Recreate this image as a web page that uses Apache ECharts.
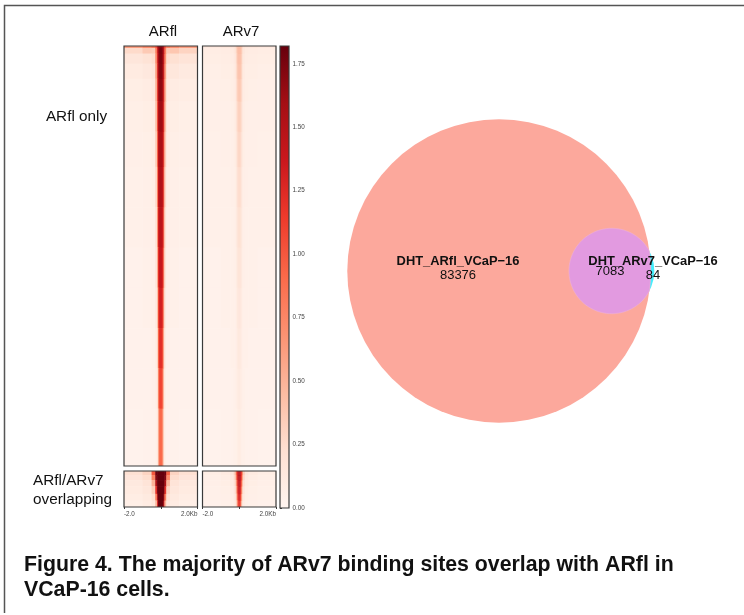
<!DOCTYPE html>
<html>
<head>
<meta charset="utf-8">
<style>
  html, body { margin: 0; background: #fff; }
  #chart { width: 744px; height: 615px; }
</style>
<script src="https://cdn.jsdelivr.net/npm/echarts@6/dist/echarts.min.js"></script>
</head>
<body>
<div id="chart"></div>
<script>
// 热图 x 分箱（bp），中心窄两边宽
const binEdges = [-2000, -1000, -500, -300, -200, -150, -100, -50, 0, 50, 100, 150, 200, 300, 500, 1000, 2000];
// 两个 cluster 的行分箱（peak 数）
const onlyRowEdges = [0, 400, 1500, 3500, 6500, 11000, 17000, 24000, 32000, 40000, 48000, 56000, 64000, 72000, 83376];
const bothRowEdges = [0, 800, 1800, 3000, 4500, 5800, 7083];

const arflOnly = [
  [0.62, 0.72, 0.80, 1.05, 1.45, 1.62, 1.68, 1.72, 1.72, 1.68, 1.60, 1.40, 1.00, 0.78, 0.70, 0.62],
  [0.26, 0.36, 0.34, 0.80, 1.35, 1.60, 1.72, 1.76, 1.76, 1.72, 1.60, 1.35, 0.80, 0.36, 0.38, 0.30],
  [0.16, 0.20, 0.24, 0.72, 1.30, 1.58, 1.70, 1.74, 1.74, 1.70, 1.58, 1.30, 0.72, 0.26, 0.22, 0.18],
  [0.11, 0.14, 0.17, 0.62, 1.25, 1.55, 1.68, 1.72, 1.72, 1.68, 1.55, 1.25, 0.62, 0.17, 0.15, 0.12],
  [0.08, 0.10, 0.13, 0.52, 1.18, 1.52, 1.64, 1.68, 1.68, 1.64, 1.52, 1.18, 0.52, 0.13, 0.10, 0.09],
  [0.07, 0.08, 0.10, 0.44, 1.10, 1.48, 1.58, 1.62, 1.62, 1.58, 1.48, 1.10, 0.44, 0.10, 0.08, 0.07],
  [0.06, 0.07, 0.09, 0.36, 0.98, 1.42, 1.52, 1.56, 1.56, 1.52, 1.42, 0.98, 0.36, 0.09, 0.07, 0.06],
  [0.05, 0.06, 0.08, 0.28, 0.85, 1.36, 1.48, 1.52, 1.52, 1.48, 1.36, 0.85, 0.28, 0.08, 0.06, 0.05],
  [0.05, 0.06, 0.07, 0.22, 0.72, 1.28, 1.42, 1.46, 1.46, 1.42, 1.28, 0.72, 0.22, 0.07, 0.06, 0.05],
  [0.04, 0.05, 0.06, 0.18, 0.58, 1.18, 1.36, 1.40, 1.40, 1.36, 1.18, 0.58, 0.18, 0.06, 0.05, 0.04],
  [0.04, 0.05, 0.06, 0.14, 0.45, 1.05, 1.28, 1.32, 1.32, 1.28, 1.05, 0.45, 0.14, 0.06, 0.05, 0.04],
  [0.04, 0.04, 0.05, 0.11, 0.32, 0.90, 1.18, 1.22, 1.22, 1.18, 0.90, 0.32, 0.11, 0.05, 0.04, 0.04],
  [0.04, 0.04, 0.05, 0.09, 0.24, 0.72, 1.05, 1.10, 1.10, 1.05, 0.72, 0.24, 0.09, 0.05, 0.04, 0.04],
  [0.03, 0.04, 0.04, 0.07, 0.16, 0.52, 0.86, 0.92, 0.92, 0.86, 0.52, 0.16, 0.07, 0.04, 0.04, 0.03]
];
const arv7Only = [
  [0.14, 0.16, 0.17, 0.20, 0.28, 0.38, 0.44, 0.46, 0.46, 0.44, 0.38, 0.28, 0.20, 0.17, 0.16, 0.14],
  [0.09, 0.10, 0.11, 0.15, 0.24, 0.36, 0.44, 0.46, 0.46, 0.44, 0.36, 0.24, 0.15, 0.11, 0.10, 0.09],
  [0.08, 0.09, 0.10, 0.13, 0.21, 0.34, 0.42, 0.44, 0.44, 0.42, 0.34, 0.21, 0.13, 0.10, 0.09, 0.08],
  [0.07, 0.08, 0.08, 0.11, 0.18, 0.31, 0.40, 0.42, 0.42, 0.40, 0.31, 0.18, 0.11, 0.08, 0.08, 0.07],
  [0.06, 0.07, 0.08, 0.10, 0.16, 0.28, 0.36, 0.39, 0.39, 0.36, 0.28, 0.16, 0.10, 0.08, 0.07, 0.06],
  [0.06, 0.06, 0.07, 0.09, 0.14, 0.24, 0.31, 0.34, 0.34, 0.31, 0.24, 0.14, 0.09, 0.07, 0.06, 0.06],
  [0.05, 0.06, 0.06, 0.08, 0.12, 0.20, 0.27, 0.30, 0.30, 0.27, 0.20, 0.12, 0.08, 0.06, 0.06, 0.05],
  [0.05, 0.05, 0.06, 0.07, 0.10, 0.17, 0.24, 0.26, 0.26, 0.24, 0.17, 0.10, 0.07, 0.06, 0.05, 0.05],
  [0.05, 0.05, 0.05, 0.06, 0.09, 0.15, 0.21, 0.23, 0.23, 0.21, 0.15, 0.09, 0.06, 0.05, 0.05, 0.05],
  [0.04, 0.05, 0.05, 0.06, 0.08, 0.13, 0.18, 0.20, 0.20, 0.18, 0.13, 0.08, 0.06, 0.05, 0.05, 0.04],
  [0.04, 0.05, 0.05, 0.05, 0.07, 0.11, 0.15, 0.17, 0.17, 0.15, 0.11, 0.07, 0.05, 0.05, 0.05, 0.04],
  [0.04, 0.04, 0.05, 0.05, 0.06, 0.10, 0.13, 0.15, 0.15, 0.13, 0.10, 0.06, 0.05, 0.05, 0.04, 0.04],
  [0.04, 0.04, 0.04, 0.05, 0.06, 0.09, 0.11, 0.13, 0.13, 0.11, 0.09, 0.06, 0.05, 0.04, 0.04, 0.04],
  [0.03, 0.04, 0.04, 0.05, 0.05, 0.07, 0.10, 0.11, 0.11, 0.10, 0.07, 0.05, 0.05, 0.04, 0.04, 0.03]
];
const arflBoth = [
  [0.22, 0.30, 1.00, 1.80, 1.82, 1.82, 1.82, 1.82, 1.82, 1.82, 1.82, 1.82, 1.80, 0.95, 0.30, 0.22],
  [0.17, 0.24, 0.75, 1.72, 1.82, 1.82, 1.82, 1.82, 1.82, 1.82, 1.82, 1.82, 1.72, 0.72, 0.24, 0.17],
  [0.13, 0.18, 0.50, 1.55, 1.82, 1.82, 1.82, 1.82, 1.82, 1.82, 1.82, 1.82, 1.55, 0.48, 0.18, 0.13],
  [0.11, 0.15, 0.32, 1.20, 1.80, 1.82, 1.82, 1.82, 1.82, 1.82, 1.82, 1.80, 1.20, 0.30, 0.15, 0.11],
  [0.09, 0.12, 0.22, 0.82, 1.60, 1.82, 1.82, 1.82, 1.82, 1.82, 1.82, 1.60, 0.82, 0.22, 0.12, 0.09],
  [0.07, 0.10, 0.16, 0.50, 1.30, 1.78, 1.82, 1.82, 1.82, 1.82, 1.78, 1.30, 0.50, 0.16, 0.10, 0.07]
];
const arv7Both = [
  [0.08, 0.11, 0.16, 0.34, 0.72, 1.15, 1.40, 1.50, 1.50, 1.40, 1.15, 0.72, 0.34, 0.16, 0.11, 0.08],
  [0.07, 0.09, 0.13, 0.28, 0.62, 1.08, 1.38, 1.48, 1.48, 1.38, 1.08, 0.62, 0.28, 0.13, 0.09, 0.07],
  [0.06, 0.08, 0.11, 0.22, 0.48, 0.95, 1.32, 1.44, 1.44, 1.32, 0.95, 0.48, 0.22, 0.11, 0.08, 0.06],
  [0.05, 0.07, 0.09, 0.17, 0.36, 0.80, 1.25, 1.38, 1.38, 1.25, 0.80, 0.36, 0.17, 0.09, 0.07, 0.05],
  [0.05, 0.06, 0.08, 0.13, 0.26, 0.62, 1.14, 1.30, 1.30, 1.14, 0.62, 0.26, 0.13, 0.08, 0.06, 0.05],
  [0.04, 0.05, 0.07, 0.10, 0.20, 0.45, 0.98, 1.18, 1.18, 0.98, 0.45, 0.20, 0.10, 0.07, 0.05, 0.04]
];

const colorbarTicks = [0, 0.25, 0.5, 0.75, 1, 1.25, 1.5, 1.75];
const colorbarMax = 1.82;
const reds = ['#fff5f0', '#fee0d2', '#fcbba1', '#fc9272', '#fb6a4a', '#ef3b2c', '#cb181d', '#a50f15', '#67000d'];

// 维恩图计数
const arflOnlyCount = 83376;
const overlapCount = 7083;
const arv7OnlyCount = 84;
const vennCentres = [0, 126]; // 两圆圆心 x，和半径同一单位

const frameColor = '#3a3a3a';
const fontFamily = '"Liberation Sans", Arial, sans-serif';

function cells(matrix, rowEdges) {
  const out = [];
  matrix.forEach((row, r) => {
    row.forEach((v, c) => {
      out.push([binEdges[c], binEdges[c + 1], rowEdges[r], rowEdges[r + 1], v]);
    });
  });
  return out;
}

function renderCell(params, api) {
  const a = api.coord([api.value(0), api.value(2)]);
  const b = api.coord([api.value(1), api.value(3)]);
  return {
    type: 'rect',
    shape: { x: a[0], y: a[1], width: b[0] - a[0] + 0.5, height: b[1] - a[1] + 0.5 },
    style: { fill: api.visual('color') },
  };
}

// 坐标系外框，盖在色块上面
function renderFrame(params) {
  const c = params.coordSys;
  return {
    type: 'rect',
    shape: { x: c.x, y: c.y, width: c.width, height: c.height },
    style: { fill: 'none', stroke: frameColor, lineWidth: 1.2 },
  };
}

const panels = [
  { left: 124, width: 73.5, top: 46, height: 420, data: arflOnly, rows: onlyRowEdges },
  { left: 202.5, width: 73.5, top: 46, height: 420, data: arv7Only, rows: onlyRowEdges },
  { left: 124, width: 73.5, top: 471, height: 36, data: arflBoth, rows: bothRowEdges, ticks: true },
  { left: 202.5, width: 73.5, top: 471, height: 36, data: arv7Both, rows: bothRowEdges, ticks: true },
];

const grid = [];
const xAxis = [];
const yAxis = [];
const series = [];
const cellSeriesIndex = [];

panels.forEach((p, i) => {
  grid.push({ left: p.left, top: p.top, width: p.width, height: p.height });
  xAxis.push({
    gridIndex: i,
    type: 'value',
    min: -2000,
    max: 2000,
    interval: 2000,
    show: !!p.ticks,
    splitLine: { show: false },
    axisLine: { show: false, onZero: false },
    axisTick: { show: true, length: 2, lineStyle: { color: frameColor } },
    axisLabel: {
      fontSize: 6.3,
      color: '#444',
      margin: 4,
      fontFamily: fontFamily,
      alignMinLabel: 'left',
      alignMaxLabel: 'right',
      formatter: (v) => (v === -2000 ? '-2.0' : v === 2000 ? '2.0Kb' : ''),
    },
  });
  yAxis.push({
    gridIndex: i,
    type: 'value',
    inverse: true,
    min: 0,
    max: p.rows[p.rows.length - 1],
    show: false,
  });
  cellSeriesIndex.push(series.length);
  series.push({
    type: 'custom',
    xAxisIndex: i,
    yAxisIndex: i,
    silent: true,
    clip: true,
    renderItem: renderCell,
    encode: { x: [0, 1], y: [2, 3] },
    data: cells(p.data, p.rows),
  });
  series.push({
    type: 'custom',
    xAxisIndex: i,
    yAxisIndex: i,
    silent: true,
    z: 5,
    renderItem: renderFrame,
    data: [[0, 0]],
  });
});

// 色标
grid.push({ left: 280, top: 46, width: 9, height: 462 });
xAxis.push({ gridIndex: 4, type: 'value', min: 0, max: 1, show: false });
yAxis.push({
  gridIndex: 4,
  type: 'value',
  position: 'right',
  min: 0,
  max: colorbarMax,
  splitLine: { show: false },
  axisLine: { show: false },
  axisTick: { show: true, length: 2, customValues: colorbarTicks, lineStyle: { color: frameColor } },
  axisLabel: {
    fontSize: 6.3,
    color: '#444',
    margin: 3.5,
    fontFamily: fontFamily,
    customValues: colorbarTicks,
    formatter: (v) => v.toFixed(2),
  },
});
series.push({
  type: 'custom',
  xAxisIndex: 4,
  yAxisIndex: 4,
  silent: true,
  renderItem: (params) => {
    const c = params.coordSys;
    return {
      type: 'rect',
      shape: { x: c.x, y: c.y, width: c.width, height: c.height },
      style: {
        fill: new echarts.graphic.LinearGradient(0, 1, 0, 0,
          reds.map((color, i) => ({ offset: i / (reds.length - 1), color }))),
      },
    };
  },
  data: [[0, 0]],
});
series.push({
  type: 'custom',
  xAxisIndex: 4,
  yAxisIndex: 4,
  silent: true,
  z: 5,
  renderItem: renderFrame,
  data: [[0, 0]],
});

// 维恩图，半径按面积 = 计数
grid.push({ left: 347, top: 119, width: 304, height: 304 });
xAxis.push({ gridIndex: 5, type: 'value', min: -170, max: 170, show: false });
yAxis.push({ gridIndex: 5, type: 'value', min: -170, max: 170, show: false });

const bigR = Math.sqrt((arflOnlyCount + overlapCount) / Math.PI);
const smallR = Math.sqrt((overlapCount + arv7OnlyCount) / Math.PI);

series.push({
  type: 'custom',
  xAxisIndex: 5,
  yAxisIndex: 5,
  silent: true,
  clip: false,
  renderItem: (params, api) => {
    const c0 = api.coord([vennCentres[0], 0]);
    const c1 = api.coord([vennCentres[1], 0]);
    const scale = api.size([1, 0])[0];
    const R = bigR * scale;
    const r = smallR * scale;
    const d = c1[0] - c0[0];
    // 两圆交点，算出重叠区的透镜形状
    const aBig = Math.acos((d * d + R * R - r * r) / (2 * d * R));
    const aSmall = Math.acos((d * d + r * r - R * R) / (2 * d * r));
    const lens = [];
    for (let i = 0; i <= 40; i++) {
      const t = -aBig + (2 * aBig * i) / 40;
      lens.push([c0[0] + R * Math.cos(t), c0[1] + R * Math.sin(t)]);
    }
    for (let i = 0; i <= 80; i++) {
      const t = Math.PI - aSmall + (2 * aSmall * i) / 80;
      lens.push([c1[0] + r * Math.cos(t), c1[1] + r * Math.sin(t)]);
    }
    return {
      type: 'group',
      children: [
        { type: 'circle', shape: { cx: c1[0], cy: c1[1], r: r }, style: { fill: '#45eefc' } },
        { type: 'circle', shape: { cx: c0[0], cy: c0[1], r: R }, style: { fill: '#fca89c' } },
        { type: 'polygon', shape: { points: lens }, style: { fill: '#e29ae0', stroke: '#eeb4d8', lineWidth: 0.5 } },
      ],
    };
  },
  data: [[0, 0]],
});

function text(x, y, str, size, extra) {
  return {
    type: 'text',
    x: x,
    y: y,
    z: 20,
    style: Object.assign({
      text: str,
      fontSize: size,
      fontFamily: fontFamily,
      fill: '#111',
      align: 'center',
      verticalAlign: 'middle',
    }, extra || {}),
  };
}

const myChart = echarts.init(document.getElementById('chart'), null, { renderer: 'canvas' });
myChart.setOption({
  animation: false,
  backgroundColor: '#fff',
  grid: grid,
  xAxis: xAxis,
  yAxis: yAxis,
  visualMap: {
    type: 'continuous',
    show: false,
    min: 0,
    max: colorbarMax,
    dimension: 4,
    seriesIndex: cellSeriesIndex,
    inRange: { color: reds },
  },
  series: series,
  graphic: [
    // 外框：上边和左边
    { type: 'polyline', z: 1, shape: { points: [[744, 5.5], [4.5, 5.5], [4.5, 613]] }, style: { fill: 'none', stroke: '#555', lineWidth: 1.5 } },
    text(163, 32, 'ARfl', 15),
    text(241, 32, 'ARv7', 15),
    text(76.5, 117, 'ARfl only', 15.3),
    text(33, 481, 'ARfl/ARv7', 15.3, { align: 'left' }),
    text(33, 500, 'overlapping', 15.3, { align: 'left' }),
    text(458, 261, 'DHT_ARfl_VCaP\u221216', 12.9, { fontWeight: 'bold' }),
    text(458, 275, String(arflOnlyCount), 13),
    text(653, 261, 'DHT_ARv7_VCaP\u221216', 12.9, { fontWeight: 'bold' }),
    text(610, 271, String(overlapCount), 13),
    text(653, 275, String(arv7OnlyCount), 13),
    text(24, 565.5, 'Figure 4. The majority of ARv7 binding sites overlap with ARfl in', 21.3, { fontWeight: 'bold', align: 'left' }),
    text(24, 590.5, 'VCaP-16 cells.', 21.3, { fontWeight: 'bold', align: 'left' }),
  ],
});

window.addEventListener('resize', () => {
  myChart.resize();
});
</script>
</body>
</html>
